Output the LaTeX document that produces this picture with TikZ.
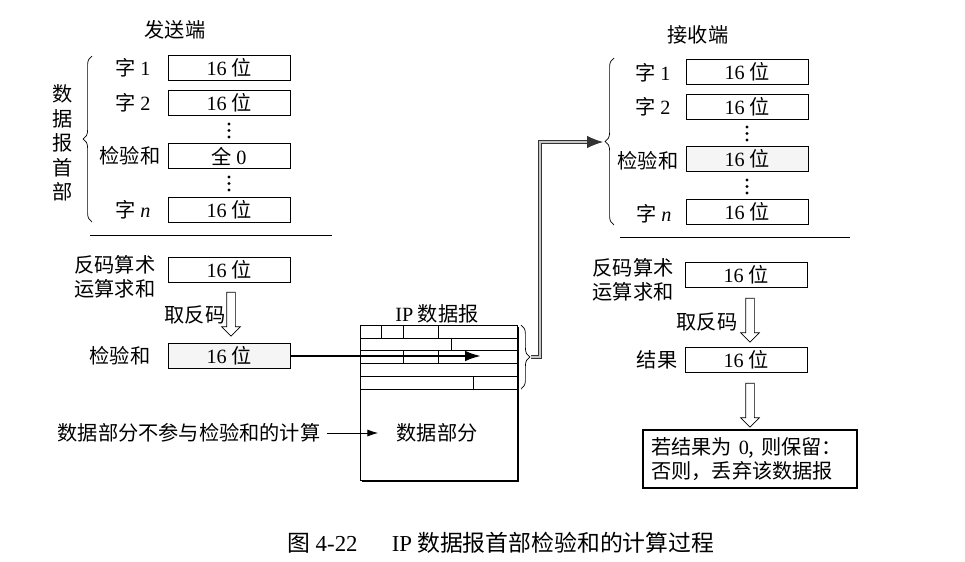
\documentclass[tikz,border=0pt]{standalone}
\usepackage{fontspec}
\setmainfont{Noto Sans CJK SC}
\newfontfamily\lat{Liberation Serif}
\usetikzlibrary{arrows.meta,positioning,shapes.arrows,decorations.pathreplacing,shadows}
\newcommand\sixteen{{\lat 16} 位}

\begin{document}
\begin{tikzpicture}[x=0.02cm,y=-0.02cm,font=\fontsize{11.5pt}{13.5pt}\selectfont,
  bx/.style={draw,minimum width=2.44cm,minimum height=0.5cm,inner sep=0pt},
  ckbx/.style={bx,fill=gray!8},
  harrow/.style={draw,single arrow,shape border rotate=270,minimum height=0.88cm,
    minimum width=0.36cm,single arrow head extend=0.1cm,inner sep=0.08cm},
  brc/.style={decorate,decoration={brace,amplitude=5pt}},
  dbl/.style={draw=black!80,double=gray!45,double distance=1.1pt,line width=0.5pt,
    -{Latex[length=9pt,width=7pt]}}]
  \useasboundingbox (0,0) rectangle (965,562);

  % sending side
  \node (snd) at (175,30) {发送端};
  \node[bx] (s1) at (229,68) {\sixteen};
  \node[bx] (s2) at (229,103) {\sixteen};
  \node[bx] (sck) at (229,156) {全 {\lat 0}};
  \node[bx] (sn) at (229,210) {\sixteen};
  \foreach \y in {124,130.5,137,177,183.5,190} \fill (229,\y) circle (0.9pt);
  \node (ls1) at (133,68) {字 {\lat 1}};
  \node (ls2) at (133,103) {字 {\lat 2}};
  \node (lsck) at (130,156) {检验和};
  \node (lsn) at (133,210) {字 {\lat\itshape n}};
  \draw[brc] (92,222) -- (92,56);
  \node[align=center,font=\fontsize{11.5pt}{14pt}\selectfont] (hdr) at (63,143) {数\\据\\报\\首\\部};
  \draw (90,235) -- (332,235);

  \node[bx] (ssum) at (229,270) {\sixteen};
  \node[align=center] (lssum) at (115,277) {反码算术\\运算求和};
  \node[harrow] (ha1) at (231,312) {};
  \node (inv1) at (195,315) {取反码};
  \node[ckbx] (ck) at (229,356) {\sixteen};
  \node (lck) at (120,356) {检验和};
  \node (note) at (189,433) {数据部分不参与检验和的计算};

  % IP datagram
  \node[draw,fill=white,minimum width=3.14cm,minimum height=3.1cm,
    drop shadow={opacity=1,fill=black,shadow xshift=1.3pt,shadow yshift=-1.3pt}] (ip) at (438.5,402.5) {};
  \node (iptl) at (437,314) {{\lat IP} 数据报};
  \foreach \y in {338,350,363,376,389} \draw (360,\y) -- (517,\y);
  \foreach \x/\a/\b in {381/325/338,403/325/338,438/325/338,451/338/350,403/350/363,438/350/363,473/376/389}
    \draw (\x,\a) -- (\x,\b);
  \node (data) at (437,433) {数据部分};
  \coordinate (ckend) at (481,356);
  \coordinate (dataend) at (378,433);
  \draw[line width=1.3pt,-{Latex[length=9pt,width=6pt]}] (ck.east) -- (ckend);
  \draw[-{Latex[length=6pt,width=4pt]}] (note.east) -- (dataend);
  \draw[brc] (521,325) -- (521,389);
  \coordinate (ipb) at (531,357);

  % receiving side
  \node (rcv) at (698,35) {接收端};
  \node[bx] (r1) at (747,72) {\sixteen};
  \node[bx] (r2) at (747,107) {\sixteen};
  \node[ckbx] (rck) at (747,159) {\sixteen};
  \node[bx] (rn) at (747,212) {\sixteen};
  \foreach \y in {127,133.5,140,180,186.5,193} \fill (747,\y) circle (0.9pt);
  \node (lr1) at (653,73) {字 {\lat 1}};
  \node (lr2) at (653,107) {字 {\lat 2}};
  \node (lrck) at (648,161) {检验和};
  \node (lrn) at (654,214) {字 {\lat\itshape n}};
  \draw[brc] (614,225) -- (614,58);
  \coordinate (rb) at (603,142);
  \draw[dbl] (ipb) -- ++(9,0) |- (rb);
  \draw (620,237) -- (850,237);

  \node[bx] (rsum) at (746,275) {\sixteen};
  \node[align=center] (lrsum) at (633,280) {反码算术\\运算求和};
  \node[harrow] (ha2) at (750,318) {};
  \node (inv2) at (707,322) {取反码};
  \node[bx] (res) at (746,360) {\sixteen};
  \node (lres) at (657,360) {结果};
  \node[harrow] (ha3) at (750,403) {};
  \node[draw,line width=1.4pt,align=left,text width=3.95cm,minimum width=4.28cm,
    minimum height=1.16cm] (fin) at (750,459) {若结果为 {\lat 0}, 则保留：\\否则，丢弃该数据报};

  \node[font=\fontsize{13pt}{15pt}\selectfont] (cap) at (501,543) {图 {\lat 4-22}\hspace{1.5em}{\lat IP} 数据报首部检验和的计算过程};
\end{tikzpicture}
\end{document}
